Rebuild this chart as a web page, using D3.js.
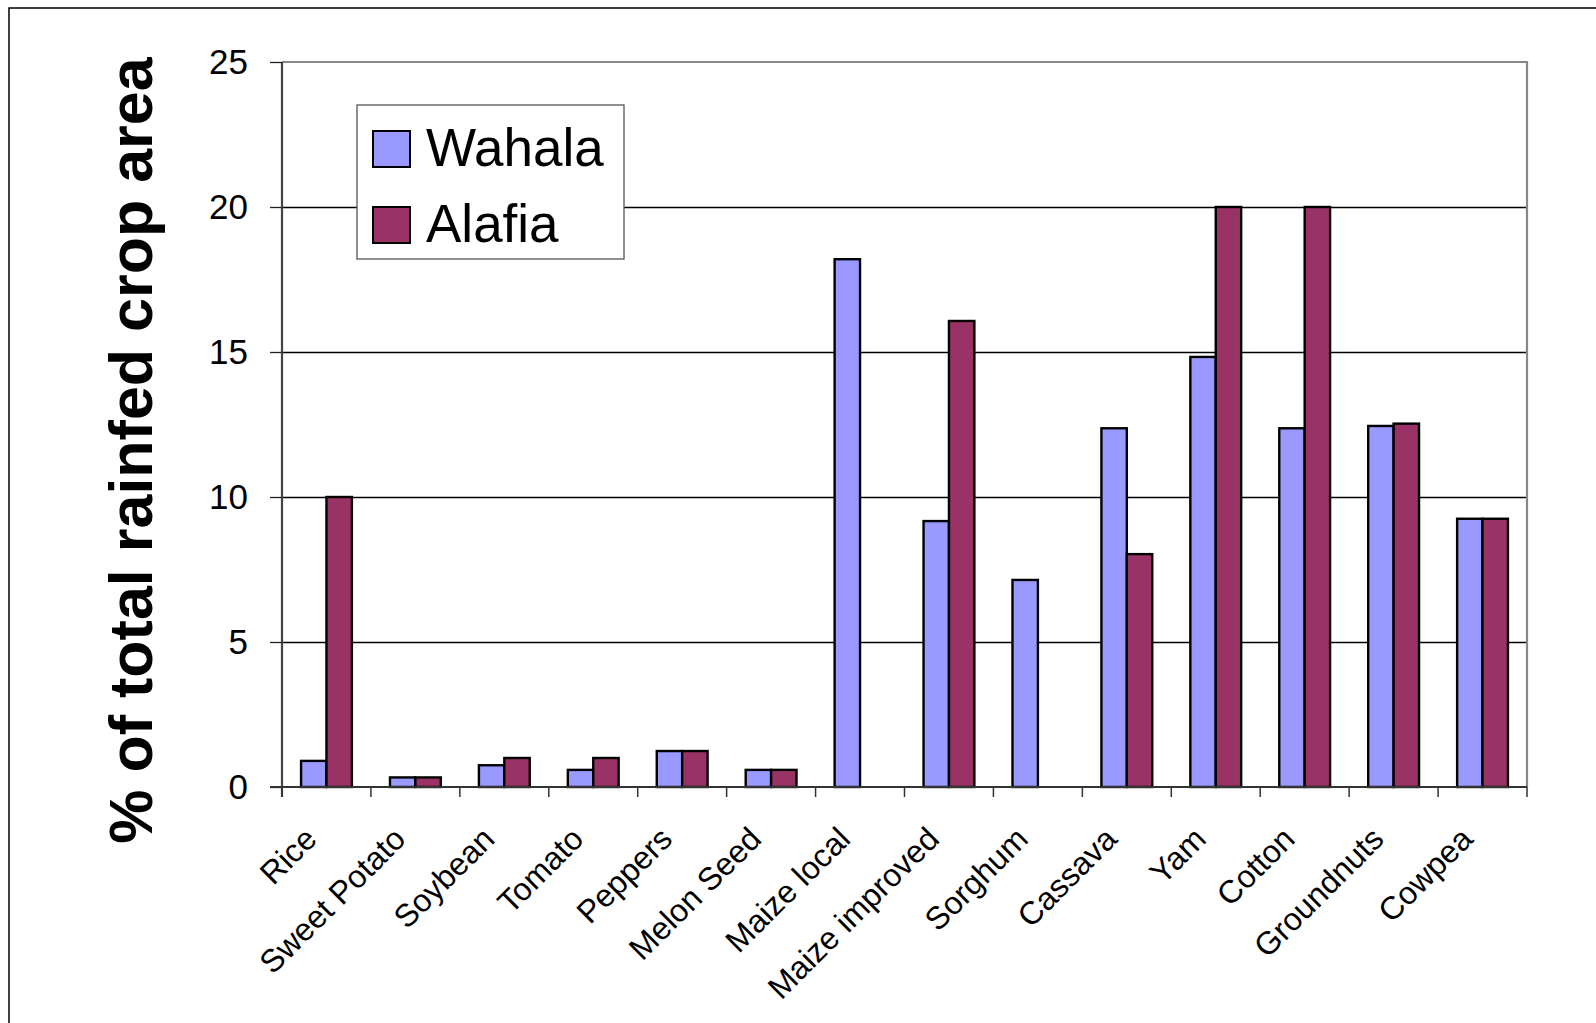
<!DOCTYPE html>
<html>
<head>
<meta charset="utf-8">
<script src="https://cdn.jsdelivr.net/npm/d3@7"></script>
<style>
  html, body { margin: 0; padding: 0; background: #fff; }
  svg { display: block; }
  text { font-family: "Liberation Sans", Arial, sans-serif; fill: #000; }
</style>
</head>
<body>
<svg id="chart" width="1596" height="1023"></svg>
<script>
const categories = ["Rice","Sweet Potato","Soybean","Tomato","Peppers","Melon Seed","Maize local","Maize improved","Sorghum","Cassava","Yam","Cotton","Groundnuts","Cowpea"];
const seriesNames = ["Wahala","Alafia"];
const wahala = [0.9, 0.33, 0.75, 0.59, 1.24, 0.59, 18.2, 9.17, 7.14, 12.37, 14.83, 12.37, 12.45, 9.25];
const alafia = [10.0, 0.33, 1.0, 1.0, 1.24, 0.59, 0, 16.07, 0, 8.03, 20.0, 20.0, 12.53, 9.25];
const yTicks = [0, 5, 10, 15, 20, 25];
const colors = ["#9999FF", "#993366"];
const yTitle = "% of total rainfed crop area";

(function () {
const svg = d3.select("#chart");
const W = 1596, H = 1023;
const pL = 282, pR = 1527, pT = 62, pB = 787;

// outer border
svg.append("rect").attr("x", 9).attr("y", 8).attr("width", W).attr("height", H)
  .attr("fill", "none").attr("stroke", "#000").attr("stroke-width", 1.5);

const x0 = d3.scaleBand().domain(categories).range([pL, pR]).paddingInner(0).paddingOuter(0);
const x1 = d3.scaleBand().domain(seriesNames).range([0, x0.bandwidth()]).paddingInner(0).paddingOuter(0.75);
const y = d3.scaleLinear().domain([0, 25]).range([pB, pT]);

// gridlines
svg.append("g").selectAll("line").data(yTicks.filter(t => t > 0 && t < 25)).join("line")
  .attr("x1", pL).attr("x2", pR)
  .attr("y1", d => Math.round(y(d)) + 0.5).attr("y2", d => Math.round(y(d)) + 0.5)
  .attr("stroke", "#000").attr("stroke-width", 1.3);

// plot frame top/right (gray)
svg.append("path")
  .attr("d", `M${pL},${y(25)}H${pR}V${pB}`)
  .attr("fill", "none").attr("stroke", "#888").attr("stroke-width", 2.2);

// bars
const rows = categories.map((c, i) => ({ cat: c, vals: [wahala[i], alafia[i]] }));
const g = svg.append("g");
rows.forEach(r => {
  r.vals.forEach((v, si) => {
    if (v <= 0) return;
    g.append("rect")
      .attr("x", x0(r.cat) + x1(seriesNames[si]))
      .attr("y", y(v))
      .attr("width", x1.bandwidth())
      .attr("height", y(0) - y(v))
      .attr("fill", colors[si])
      .attr("stroke", "#000").attr("stroke-width", 2.4);
  });
});

// y axis
const yAxis = d3.axisLeft(y).tickValues(yTicks).tickSize(12).tickPadding(22).tickFormat(d3.format("d"));
const ya = svg.append("g").attr("transform", `translate(${pL},0)`).call(yAxis);
ya.select(".domain").attr("stroke", "#444").attr("stroke-width", 2.2).attr("d", `M0,${y(25)}V${pB + 10}`);
ya.selectAll(".tick line").attr("stroke", "#222").attr("stroke-width", 1.3);
ya.selectAll(".tick text").style("font-size", "35px").style("font-family", "'Liberation Sans', Arial, sans-serif").attr("fill", "#000");

// x axis
const xa = svg.append("g").attr("transform", `translate(0,${pB})`);
xa.append("line").attr("x1", pL - 12).attr("x2", pR).attr("y1", 0).attr("y2", 0)
  .attr("stroke", "#333").attr("stroke-width", 2.2);
const bounds = categories.map(c => x0(c)).concat([pR]);
xa.selectAll("line.tk").data(bounds).join("line").attr("class", "tk")
  .attr("x1", d => d).attr("x2", d => d).attr("y1", 0).attr("y2", 10)
  .attr("stroke", "#333").attr("stroke-width", 1.5);
xa.selectAll("text.lbl").data(categories).join("text").attr("class", "lbl")
  .attr("transform", d => `translate(${x0(d) + x0.bandwidth() / 2 - 8},54) rotate(-45)`)
  .attr("text-anchor", "end")
  .style("font-size", "32px")
  .text(d => d);

// y title
svg.append("text")
  .attr("transform", `translate(152,${(56 + 845) / 2}) rotate(-90)`)
  .attr("text-anchor", "middle")
  .style("font-size", "61px").style("font-weight", "bold")
  .text(yTitle);

// legend
const lg = svg.append("g");
lg.append("rect").attr("x", 357).attr("y", 105).attr("width", 267).attr("height", 154)
  .attr("fill", "#fff").attr("stroke", "#555").attr("stroke-width", 1.3);
seriesNames.forEach((s, i) => {
  lg.append("rect").attr("x", 373).attr("y", 131 + i * 76).attr("width", 37).attr("height", 36)
    .attr("fill", colors[i]).attr("stroke", "#000").attr("stroke-width", 2);
  lg.append("text").attr("x", 426).attr("y", 166 + i * 76)
    .style("font-size", "53px").text(s);
});
})();
</script>
</body>
</html>
